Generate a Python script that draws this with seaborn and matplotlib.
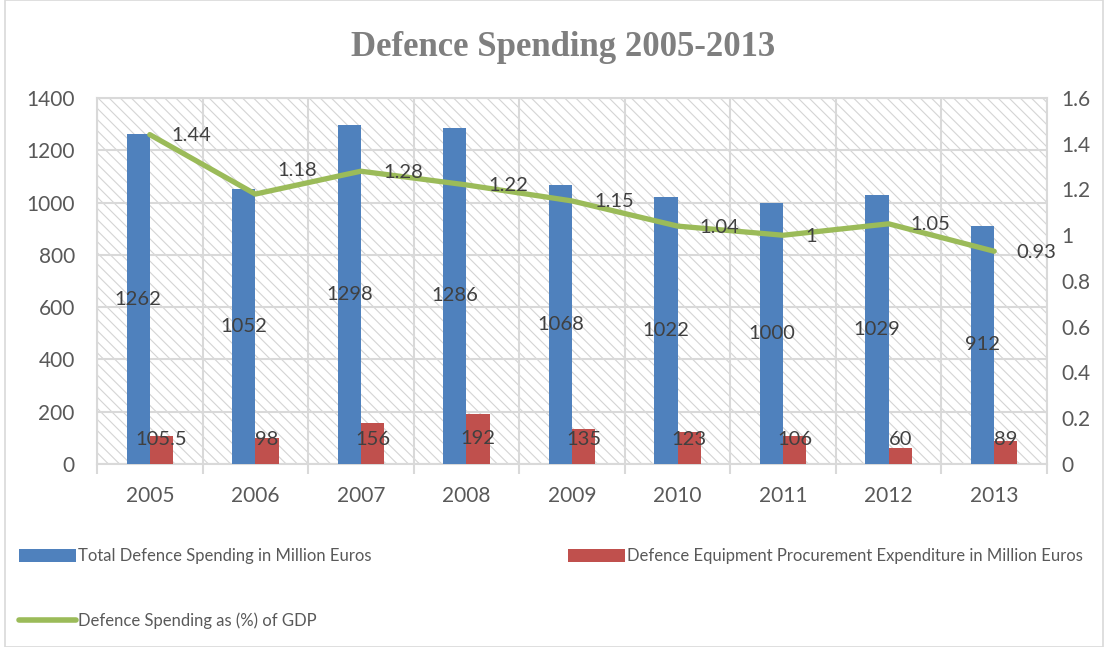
import numpy as np
import pandas as pd
import matplotlib
matplotlib.use("Agg")
import matplotlib.pyplot as plt
import seaborn as sns
from matplotlib.patches import Patch, Rectangle
from matplotlib.lines import Line2D
from matplotlib.ticker import FixedLocator, FuncFormatter

years = ["2005", "2006", "2007", "2008", "2009", "2010", "2011", "2012", "2013"]
total_spending = [1262, 1052, 1298, 1286, 1068, 1022, 1000, 1029, 912]
procurement = [105.5, 98, 156, 192, 135, 123, 106, 60, 89]
gdp_pct = [1.44, 1.18, 1.28, 1.22, 1.15, 1.04, 1.00, 1.05, 0.93]

name_total = "Total Defence Spending in Million Euros"
name_proc = "Defence Equipment Procurement Expenditure in Million Euros"
name_gdp = "Defence Spending as (%) of GDP"
title = "Defence Spending 2005-2013"

BLUE = "#4F81BD"
RED = "#C0504D"
GREEN = "#9BBB59"
GRID = "#d9d9d9"
TICK = "#595959"
LABEL = "#404040"

sns.set_theme(style="white")
plt.rcParams["font.family"] = ["Lato", "DejaVu Sans"]
plt.rcParams["hatch.color"] = "#d4d4d4"
plt.rcParams["hatch.linewidth"] = 0.8

df = pd.DataFrame({
    "year": years * 2,
    "value": total_spending + procurement,
    "series": [name_total] * len(years) + [name_proc] * len(years),
})

W, H = 1108, 647
fig = plt.figure(figsize=(W / 100, H / 100), dpi=100)
ax = fig.add_axes([97 / W, 1 - 464 / H, (1047 - 97) / W, (464 - 98) / H])
ax.patch.set_facecolor("white")
ax.patch.set_hatch("\\\\\\")
ax.patch.set_edgecolor("#d4d4d4")

sns.barplot(data=df, x="year", y="value", hue="series", order=years,
            hue_order=[name_total, name_proc], palette=[BLUE, RED],
            width=0.44, gap=0, saturation=1, ax=ax, legend=False, zorder=3)
for p in ax.patches:
    p.set_edgecolor("none")
    p.set_linewidth(0)

ax.set_xlim(-0.5, len(years) - 0.5)
ax.set_ylim(0, 1400)
ax.set_yticks(np.arange(0, 1401, 200))
ax.set_xlabel("")
ax.set_ylabel("")
ax.xaxis.set_minor_locator(FixedLocator(np.arange(-0.5, len(years), 1.0)))
ax.grid(True, which="major", axis="y", color=GRID, linewidth=1.5, zorder=1)
ax.grid(True, which="minor", axis="x", color=GRID, linewidth=1.5, zorder=1)
ax.set_axisbelow(True)
ax.tick_params(axis="x", which="major", length=0, labelsize=15, labelcolor=TICK, pad=16)
ax.tick_params(axis="x", which="minor", length=7, width=1.5, color=GRID, direction="out", bottom=True)
ax.tick_params(axis="y", length=0, labelsize=15, labelcolor=TICK, pad=16)
for s in ax.spines.values():
    s.set_color(GRID)
    s.set_linewidth(1.5)

# bar labels
blue_bars = ax.containers[0]
red_bars = ax.containers[1]
for rect, v in zip(blue_bars, total_spending):
    ax.text(rect.get_x() + rect.get_width() / 2, v / 2, f"{v:g}", ha="center", va="center",
            fontsize=14.5, color=LABEL, zorder=5)
for rect, v in zip(red_bars, procurement):
    ax.text(rect.get_x() + rect.get_width() / 2, max(v / 2, 95), f"{v:g}", ha="center",
            va="center", fontsize=14.5, color=LABEL, zorder=5)

# secondary axis line
ax2 = ax.twinx()
xs = np.arange(len(years))
sns.lineplot(x=xs, y=gdp_pct, ax=ax2, color=GREEN, linewidth=3.8, zorder=4)
ax2.set_ylim(0, 1.6)
ax2.set_xlim(-0.5, len(years) - 0.5)
ax2.set_yticks(np.arange(0, 1.61, 0.2))
ax2.yaxis.set_major_formatter(FuncFormatter(lambda v, p: f"{round(v, 1):g}"))
ax2.tick_params(axis="y", length=0, labelsize=15, labelcolor=TICK, pad=10)
ax2.set_ylabel("")
ax2.grid(False)
for s in ax2.spines.values():
    s.set_visible(False)

label_offsets = {1: 25}
for i, v in enumerate(gdp_pct):
    ax2.annotate(f"{v:g}", (xs[i], v), xytext=(22, label_offsets.get(i, 0) - 1),
                 textcoords="offset pixels", ha="left", va="center",
                 fontsize=14.5, color=LABEL, zorder=6)

fig.text(563 / W, 1 - 47 / H, title, ha="center", va="center", fontsize=25,
         fontweight="bold", color="#7f7f7f", family=["Liberation Serif", "DejaVu Serif"])

handles = [
    Patch(facecolor=BLUE, edgecolor="none", label=name_total),
    Line2D([0], [0], color=GREEN, linewidth=4, label=name_gdp),
    Patch(facecolor=RED, edgecolor="none", label=name_proc),
]
leg = fig.legend(handles=handles, ncol=2, loc="upper left",
                 bbox_to_anchor=(4 / W, 1 - 533 / H), frameon=False,
                 fontsize=12, handlelength=3.4, handleheight=0.8, handletextpad=0.15,
                 columnspacing=11.8, labelspacing=2.9, labelcolor=TICK)

fig.patches.append(Rectangle((5 / W, 0), 1 - 10 / W, 1, transform=fig.transFigure,
                             fill=False, edgecolor=GRID, linewidth=1.2))

fig.savefig("out.png", dpi=100)
